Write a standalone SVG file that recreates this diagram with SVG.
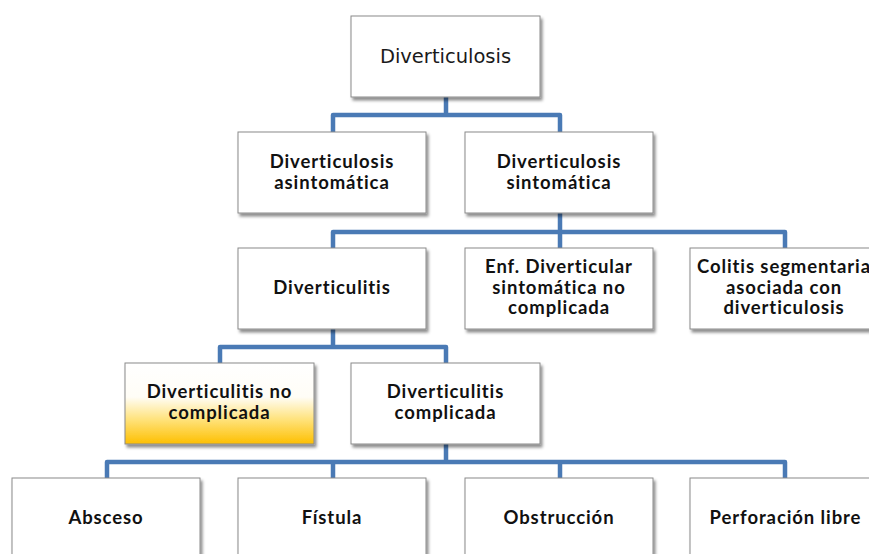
<svg xmlns="http://www.w3.org/2000/svg" width="869" height="554" viewBox="0 0 869 554">
  <defs>
    <filter id="shadow" x="-10%" y="-10%" width="125%" height="130%">
      <feDropShadow dx="2" dy="3" stdDeviation="1.6" flood-color="#000" flood-opacity="0.45"/>
    </filter>
    <linearGradient id="gold" x1="0" y1="0" x2="0" y2="1">
      <stop offset="0" stop-color="#ffffff"/>
      <stop offset="0.42" stop-color="#fffdf6"/>
      <stop offset="0.7" stop-color="#ffe27a"/>
      <stop offset="1" stop-color="#fdbf00"/>
    </linearGradient>
  </defs>
  <style>
    .box { fill: #ffffff; stroke: #8a8a8a; stroke-width: 1; filter: url(#shadow); }
    .hl { fill: url(#gold); }
    .lbl { font-family: Lato, "Liberation Sans", sans-serif; font-weight: bold; font-size: 18.5px; letter-spacing: 0.9px; fill: #111; text-anchor: middle; }
    .root { font-family: "DejaVu Sans", sans-serif; font-size: 19.5px; fill: #1a1a1a; text-anchor: middle; }
    .wire { fill: none; stroke: #4a7ab5; stroke-width: 4.5; stroke-linejoin: round; }
  </style>

  <rect width="869" height="554" fill="#ffffff"/>

  <!-- connectors -->
  <g id="connectors">
    <path class="wire" d="M446 97 V115 M333 132 V115 H560 V132"/>
    <path class="wire" d="M560 213 V232 M333 248 V232 H785 V248 M560 232 V248"/>
    <path class="wire" d="M333 329 V347 M220 363 V347 H446 V363"/>
    <path class="wire" d="M446 444 V462 M107 478 V462 H785 V478 M333 462 V478 M560 462 V478"/>
  </g>

  <!-- level 0 -->
  <g id="diverticulosis">
    <rect class="box" x="351" y="16" width="189" height="81"/>
    <text class="root" x="445.5" y="63">Diverticulosis</text>
  </g>

  <!-- level 1 -->
  <g id="asintomatica">
    <rect class="box" x="238" y="132" width="188" height="81"/>
    <text class="lbl" x="332" y="168">Diverticulosis</text>
    <text class="lbl" x="332" y="189">asintomática</text>
  </g>
  <g id="sintomatica">
    <rect class="box" x="465" y="132" width="188" height="81"/>
    <text class="lbl" x="559" y="168">Diverticulosis</text>
    <text class="lbl" x="559" y="189">sintomática</text>
  </g>

  <!-- level 2 -->
  <g id="diverticulitis">
    <rect class="box" x="238" y="248" width="188" height="81"/>
    <text class="lbl" x="332" y="294">Diverticulitis</text>
  </g>
  <g id="enf-diverticular">
    <rect class="box" x="465" y="248" width="188" height="81"/>
    <text class="lbl" x="559" y="273">Enf. Diverticular</text>
    <text class="lbl" x="559" y="293.5">sintomática no</text>
    <text class="lbl" x="559" y="314">complicada</text>
  </g>
  <g id="colitis-segmentaria">
    <rect class="box" x="690" y="248" width="189" height="81"/>
    <text class="lbl" x="784" y="273">Colitis segmentaria</text>
    <text class="lbl" x="784" y="293.5">asociada con</text>
    <text class="lbl" x="784" y="314">diverticulosis</text>
  </g>

  <!-- level 3 -->
  <g id="no-complicada">
    <rect class="box hl" x="125" y="363" width="189" height="81"/>
    <text class="lbl" x="219.5" y="398">Diverticulitis no</text>
    <text class="lbl" x="219.5" y="419">complicada</text>
  </g>
  <g id="complicada">
    <rect class="box" x="351" y="363" width="189" height="81"/>
    <text class="lbl" x="445.5" y="398">Diverticulitis</text>
    <text class="lbl" x="445.5" y="419">complicada</text>
  </g>

  <!-- level 4 -->
  <g id="absceso">
    <rect class="box" x="12" y="478" width="188" height="81"/>
    <text class="lbl" x="106" y="524">Absceso</text>
  </g>
  <g id="fistula">
    <rect class="box" x="238" y="478" width="188" height="81"/>
    <text class="lbl" x="332" y="524">Fístula</text>
  </g>
  <g id="obstruccion">
    <rect class="box" x="465" y="478" width="188" height="81"/>
    <text class="lbl" x="559" y="524">Obstrucción</text>
  </g>
  <g id="perforacion">
    <rect class="box" x="690" y="478" width="189" height="81"/>
    <text class="lbl" x="785.5" y="524">Perforación libre</text>
  </g>
</svg>
